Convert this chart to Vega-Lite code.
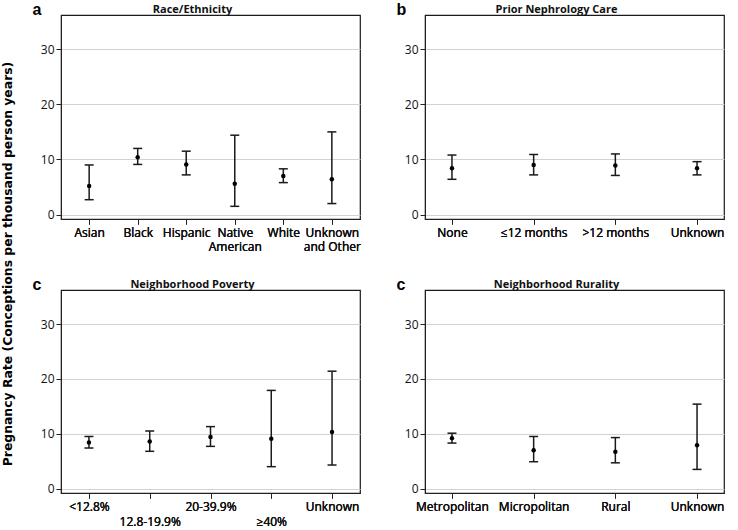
{
  "$schema": "https://vega.github.io/schema/vega-lite/v6.json",
  "padding": {"left": 1, "top": 0, "right": 5, "bottom": 0},
  "background": "white",
  "config": {
    "font": "Open Sans",
    "view": {"stroke": "#1a1a1a", "strokeWidth": 1.2},
    "axis": {"labelFont": "Open Sans", "labelFontSize": 12, "labelColor": "#111", "tickColor": "#222", "tickSize": 5, "tickWidth": 1, "domainColor": "#222", "gridColor": "#d2d2d2", "gridWidth": 1.2},
    "title": {"font": "Open Sans", "fontSize": 11, "fontWeight": "bold", "color": "#111"}
  },
  "title": {"text": "Pregnancy Rate (Conceptions per thousand person years)", "orient": "left", "anchor": "middle", "font": "DejaVu Sans", "fontSize": 12.4, "fontWeight": "bold", "color": "#000", "offset": 17},
  "datasets": {
    "race": [
      {"cat": "Asian", "est": 5.2, "lo": 2.7, "hi": 9.0},
      {"cat": "Black", "est": 10.4, "lo": 9.1, "hi": 12.0},
      {"cat": "Hispanic", "est": 9.1, "lo": 7.2, "hi": 11.5},
      {"cat": "Native American", "est": 5.6, "lo": 1.5, "hi": 14.4},
      {"cat": "White", "est": 7.0, "lo": 5.8, "hi": 8.3},
      {"cat": "Unknown and Other", "est": 6.4, "lo": 2.0, "hi": 15.0}
    ],
    "neph": [
      {"cat": "None", "est": 8.4, "lo": 6.4, "hi": 10.8},
      {"cat": "≤12 months", "est": 9.0, "lo": 7.2, "hi": 10.9},
      {"cat": ">12 months", "est": 8.9, "lo": 7.1, "hi": 11.0},
      {"cat": "Unknown", "est": 8.4, "lo": 7.2, "hi": 9.6}
    ],
    "pov": [
      {"cat": "<12.8%", "est": 8.4, "lo": 7.4, "hi": 9.5},
      {"cat": "12.8-19.9%", "est": 8.6, "lo": 6.8, "hi": 10.5},
      {"cat": "20-39.9%", "est": 9.4, "lo": 7.7, "hi": 11.3},
      {"cat": "≥40%", "est": 9.1, "lo": 4.0, "hi": 17.9},
      {"cat": "Unknown", "est": 10.3, "lo": 4.3, "hi": 21.4}
    ],
    "rur": [
      {"cat": "Metropolitan", "est": 9.2, "lo": 8.3, "hi": 10.1},
      {"cat": "Micropolitan", "est": 7.0, "lo": 4.9, "hi": 9.5},
      {"cat": "Rural", "est": 6.7, "lo": 4.7, "hi": 9.3},
      {"cat": "Unknown", "est": 7.9, "lo": 3.5, "hi": 15.4}
    ]
  },
  "columns": 2,
  "spacing": {"row": 71, "column": 65},
  "bounds": "flush",
  "concat": [
    {
      "width": 299, "height": 204,
      "data": {"name": "race"},
      "title": {"text": "Race/Ethnicity", "dx": -18, "offset": -14},
      "encoding": {
        "x": {"field": "cat", "type": "nominal",
          "scale": {"type": "point", "padding": 0.58, "domain": ["Asian", "Black", "Hispanic", "Native American", "White", "Unknown and Other"]},
          "axis": {"orient": "bottom", "title": null, "labelAngle": 0, "labelPadding": 3, "labelLineHeight": 14, "grid": false, "labelOverlap": false,
            "labelExpr": "datum.value == 'Native American' ? ['Native', 'American'] : datum.value == 'Unknown and Other' ? ['Unknown', 'and Other'] : datum.value"}}
      },
      "layer": [
        {"mark": {"type": "rule", "strokeWidth": 1.5, "color": "#1a1a1a"},
         "encoding": {"y": {"field": "lo", "type": "quantitative", "scale": {"domain": [-0.8, 36.2], "nice": false, "zero": false},
           "axis": {"title": null, "values": [0, 10, 20, 30], "grid": true}}, "y2": {"field": "hi"}}},
        {"mark": {"type": "tick", "orient": "horizontal", "size": 9, "thickness": 1.5, "color": "#1a1a1a", "opacity": 1},
         "encoding": {"y": {"field": "lo", "type": "quantitative"}}},
        {"mark": {"type": "tick", "orient": "horizontal", "size": 9, "thickness": 1.5, "color": "#1a1a1a", "opacity": 1},
         "encoding": {"y": {"field": "hi", "type": "quantitative"}}},
        {"mark": {"type": "point", "filled": true, "size": 20, "color": "#000", "opacity": 1},
         "encoding": {"y": {"field": "est", "type": "quantitative"},
           "x": {"field": "cat", "type": "nominal", "axis": {"orient": "top", "labels": false, "ticks": false, "domain": false, "grid": false, "title": "a", "titleFont": "Liberation Sans", "titleFontSize": 16, "titleFontWeight": "bold", "titleAnchor": "start", "titleAlign": "left", "titleX": -29, "titleY": -1, "titleBaseline": "alphabetic", "titleAngle": 0}}}}
      ]
    },
    {
      "width": 299, "height": 204,
      "data": {"name": "neph"},
      "title": {"text": "Prior Nephrology Care", "dx": -18, "offset": -14},
      "encoding": {
        "x": {"field": "cat", "type": "nominal",
          "scale": {"type": "point", "padding": 0.33, "domain": ["None", "≤12 months", ">12 months", "Unknown"]},
          "axis": {"orient": "bottom", "title": null, "labelAngle": 0, "labelPadding": 3, "labelLineHeight": 14, "grid": false, "labelOverlap": false}}
      },
      "layer": [
        {"mark": {"type": "rule", "strokeWidth": 1.5, "color": "#1a1a1a"},
         "encoding": {"y": {"field": "lo", "type": "quantitative", "scale": {"domain": [-0.8, 36.2], "nice": false, "zero": false},
           "axis": {"title": null, "values": [0, 10, 20, 30], "grid": true}}, "y2": {"field": "hi"}}},
        {"mark": {"type": "tick", "orient": "horizontal", "size": 9, "thickness": 1.5, "color": "#1a1a1a", "opacity": 1},
         "encoding": {"y": {"field": "lo", "type": "quantitative"}}},
        {"mark": {"type": "tick", "orient": "horizontal", "size": 9, "thickness": 1.5, "color": "#1a1a1a", "opacity": 1},
         "encoding": {"y": {"field": "hi", "type": "quantitative"}}},
        {"mark": {"type": "point", "filled": true, "size": 20, "color": "#000", "opacity": 1},
         "encoding": {"y": {"field": "est", "type": "quantitative"},
           "x": {"field": "cat", "type": "nominal", "axis": {"orient": "top", "labels": false, "ticks": false, "domain": false, "grid": false, "title": "b", "titleFont": "Liberation Sans", "titleFontSize": 16, "titleFontWeight": "bold", "titleAnchor": "start", "titleAlign": "left", "titleX": -29, "titleY": -1, "titleBaseline": "alphabetic", "titleAngle": 0}}}}
      ]
    },
    {
      "width": 299, "height": 203,
      "data": {"name": "pov"},
      "title": {"text": "Neighborhood Poverty", "dx": -18, "offset": -14},
      "encoding": {
        "x": {"field": "cat", "type": "nominal",
          "scale": {"type": "point", "padding": 0.46, "domain": ["<12.8%", "12.8-19.9%", "20-39.9%", "≥40%", "Unknown"]},
          "axis": {"orient": "bottom", "title": null, "labelAngle": 0, "labelPadding": 3, "labelLineHeight": 15, "grid": false, "labelOverlap": false,
            "labelExpr": "indexof(['12.8-19.9%', '≥40%'], datum.value) >= 0 ? ['', datum.value] : datum.value"}}
      },
      "layer": [
        {"mark": {"type": "rule", "strokeWidth": 1.5, "color": "#1a1a1a"},
         "encoding": {"y": {"field": "lo", "type": "quantitative", "scale": {"domain": [-0.8, 36.2], "nice": false, "zero": false},
           "axis": {"title": null, "values": [0, 10, 20, 30], "grid": true}}, "y2": {"field": "hi"}}},
        {"mark": {"type": "tick", "orient": "horizontal", "size": 9, "thickness": 1.5, "color": "#1a1a1a", "opacity": 1},
         "encoding": {"y": {"field": "lo", "type": "quantitative"}}},
        {"mark": {"type": "tick", "orient": "horizontal", "size": 9, "thickness": 1.5, "color": "#1a1a1a", "opacity": 1},
         "encoding": {"y": {"field": "hi", "type": "quantitative"}}},
        {"mark": {"type": "point", "filled": true, "size": 20, "color": "#000", "opacity": 1},
         "encoding": {"y": {"field": "est", "type": "quantitative"},
           "x": {"field": "cat", "type": "nominal", "axis": {"orient": "top", "labels": false, "ticks": false, "domain": false, "grid": false, "title": "c", "titleFont": "Liberation Sans", "titleFontSize": 16, "titleFontWeight": "bold", "titleAnchor": "start", "titleAlign": "left", "titleX": -29, "titleY": -1, "titleBaseline": "alphabetic", "titleAngle": 0}}}}
      ]
    },
    {
      "width": 299, "height": 203,
      "data": {"name": "rur"},
      "title": {"text": "Neighborhood Rurality", "dx": -18, "offset": -14},
      "encoding": {
        "x": {"field": "cat", "type": "nominal",
          "scale": {"type": "point", "padding": 0.33, "domain": ["Metropolitan", "Micropolitan", "Rural", "Unknown"]},
          "axis": {"orient": "bottom", "title": null, "labelAngle": 0, "labelPadding": 3, "labelLineHeight": 14, "grid": false, "labelOverlap": false}}
      },
      "layer": [
        {"mark": {"type": "rule", "strokeWidth": 1.5, "color": "#1a1a1a"},
         "encoding": {"y": {"field": "lo", "type": "quantitative", "scale": {"domain": [-0.8, 36.2], "nice": false, "zero": false},
           "axis": {"title": null, "values": [0, 10, 20, 30], "grid": true}}, "y2": {"field": "hi"}}},
        {"mark": {"type": "tick", "orient": "horizontal", "size": 9, "thickness": 1.5, "color": "#1a1a1a", "opacity": 1},
         "encoding": {"y": {"field": "lo", "type": "quantitative"}}},
        {"mark": {"type": "tick", "orient": "horizontal", "size": 9, "thickness": 1.5, "color": "#1a1a1a", "opacity": 1},
         "encoding": {"y": {"field": "hi", "type": "quantitative"}}},
        {"mark": {"type": "point", "filled": true, "size": 20, "color": "#000", "opacity": 1},
         "encoding": {"y": {"field": "est", "type": "quantitative"},
           "x": {"field": "cat", "type": "nominal", "axis": {"orient": "top", "labels": false, "ticks": false, "domain": false, "grid": false, "title": "c", "titleFont": "Liberation Sans", "titleFontSize": 16, "titleFontWeight": "bold", "titleAnchor": "start", "titleAlign": "left", "titleX": -29, "titleY": -1, "titleBaseline": "alphabetic", "titleAngle": 0}}}}
      ]
    }
  ]
}
